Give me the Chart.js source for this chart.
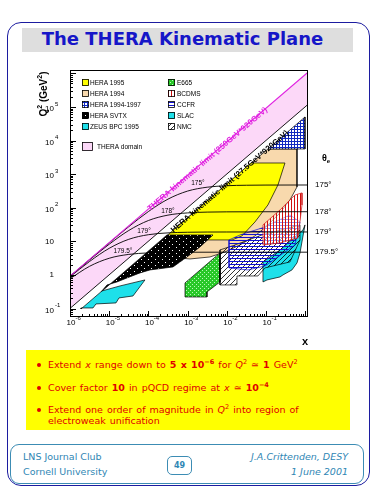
<!DOCTYPE html>
<html><head><meta charset="utf-8">
<script src="https://cdn.jsdelivr.net/npm/chart.js@4/dist/chart.umd.min.js"></script>
<style>
html,body{margin:0;padding:0;background:#fff;}
#page{position:relative;width:375px;height:500px;overflow:hidden;font-family:"DejaVu Sans",sans-serif;}
.frame{position:absolute;left:7px;top:22px;width:363px;height:464px;border:1.5px solid #1c1ca0;border-radius:14px;box-sizing:border-box;}
.titlebar{position:absolute;left:22px;top:28px;width:331px;height:24px;background:#dedede;}
.title{position:absolute;left:22px;top:28px;width:321px;height:24px;line-height:24px;text-align:center;color:#1616c8;font:bold 18px "DejaVu Sans";white-space:nowrap;}
.box{position:absolute;left:26px;top:350px;width:324px;height:80px;background:#ffff00;}
.bl{position:absolute;left:48px;font:9.5px "DejaVu Sans";line-height:12px;color:#e00000;white-space:nowrap;word-spacing:1px;}
.bl b{font-weight:bold;}
.bl sup{font-size:6.5px;line-height:0;vertical-align:4px;}
.dot{position:absolute;left:-11px;top:4px;width:4px;height:4px;border-radius:50%;background:#e00000;}
.footer{position:absolute;left:10px;top:444px;width:354px;height:40px;border:1px solid #3c8cb4;border-radius:9px;box-sizing:border-box;}
.ft{position:absolute;font:9.5px "DejaVu Sans";color:#2f86b4;white-space:nowrap;line-height:12px;}
.pg{position:absolute;left:167px;top:456px;width:25px;height:19px;border:1px solid #3c8cb4;border-radius:5px;box-sizing:border-box;font:bold 8px "DejaVu Sans";color:#2f86b4;text-align:center;line-height:17px;}
canvas{position:absolute;left:0;top:0;}
</style></head>
<body>
<div id="page">
<div class="frame"></div>
<div class="titlebar"></div>
<div class="title">The THERA Kinematic Plane</div>
<div class="box"></div>
<div class="bl" style="top:359px"><span class="dot"></span>Extend <i>x</i> range down to <b>5 x 10<sup>−6</sup></b> for <i>Q</i><sup>2</sup> ≃ <b>1</b> GeV<sup>2</sup></div>
<div class="bl" style="top:382px"><span class="dot"></span>Cover factor <b>10</b> in pQCD regime at <i>x</i> ≃ <b>10<sup>−4</sup></b></div>
<div class="bl" style="top:404px"><span class="dot"></span>Extend one order of magnitude in <i>Q</i><sup>2</sup> into region of</div>
<div class="bl" style="top:415px">electroweak unification</div>
<div class="footer"></div>
<div class="ft" style="left:23px;top:451px">LNS Journal Club</div>
<div class="ft" style="left:23px;top:466px">Cornell University</div>
<div class="pg">49</div>
<div class="ft" style="right:27px;top:451px;font-style:italic">J.A.Crittenden, DESY</div>
<div class="ft" style="right:27px;top:466px;font-style:italic">1 June 2001</div>
<canvas id="c" width="375" height="500" style="width:375px;height:500px"></canvas>
</div>
<script>
// ---------- data (x, Q^2 in GeV^2) ----------
const xMin = 1e-6, xMax = 1.18;
const yMin = 0.056, yMax = 1.26e6;

const xTickValues = [1e-6, 1e-5, 1e-4, 1e-3, 1e-2, 1e-1];
const xTickExps   = ['-6', '-5', '-4', '-3', '-2', '-1'];
const yTickValues = [0.1, 1, 10, 100, 1e3, 1e4, 1e5];
const yTickBases  = ['10', '1', '10', '10', '10', '10', '10'];
const yTickExps   = ['-1', '', '', '2', '3', '4', '5'];

const theraLimit = [[1e-6, 0.92], [1.18, 1.086e6]];
const heraLimit  = [[1e-6, 0.101], [1.18, 1.19e5]];
const theraDomain = [[1e-6, 0.92], [1.18, 1.086e6], [1.18, 1.19e5], [1e-6, 0.101]];

const hera1994 = [[0.112,5620],[0.618,5620],[0.618,416],[0.409,171],[0.228,70.0],[0.106,28.7],[0.0524,14.5],[0.0217,7.81],[0.0090,4.84],[0.00372,3.43],[0.00115,2.99],[5.69e-4,3.21],[5.69e-4,28.7],[0.112,5620]];
const hera1995 = [[0.0414,2150],[0.305,2150],[0.202,477],[0.112,121],[0.0524,37.8],[0.0244,14.5],[0.0136,11.0],[2.22e-4,11.0],[0.0414,2150]];
const hera9497 = [[0.988,5.04e4],[0.988,5620],[0.112,5620],[0.988,5.04e4]];
const heraSvtx = [[6.18e-6,0.312],[2.98e-4,15.5],[4.44e-3,15.5],[2.07e-3,6.81],[9.66e-4,3.43],[4.24e-4,1.73],[1.10e-4,1.41],[6.11e-5,1.15],[2.84e-5,0.814],[1.58e-5,0.619],[8.79e-6,0.504],[6.18e-6,0.312]];
const zeusBpc = [[1.91e-6,0.0973],[6.55e-6,0.334],[1.89e-5,0.471],[8.18e-5,0.710],[4.05e-5,0.237],[1.78e-5,0.207],[1.49e-5,0.147],[4.60e-6,0.137],[3.86e-6,0.104],[1.91e-6,0.104],[1.91e-6,0.0973]];
const e665 = [[8.59e-4,0.221],[8.59e-4,0.578],[6.71e-3,4.52],[6.71e-3,0.619],[3.12e-3,0.312],[3.12e-3,0.221],[8.59e-4,0.221]];
const slac = [[0.0838,0.619],[0.0838,2.44],[0.228,5.55],[0.879,21.8],[0.988,30.8],[0.737,4.52],[0.618,2.28],[0.460,1.41],[0.271,1.0],[0.228,0.872],[0.106,0.710],[0.0838,0.619]];
const nmc = [[0.00671,5.55],[0.00671,0.504],[0.0182,0.504],[0.0182,0.933],[0.0625,0.933],[0.0942,1.62],[0.409,2.44],[0.737,11.0],[0.737,30.8],[0.0791,15.5],[0.0162,7.81],[0.00671,5.55]];
const ccfr = [[0.0114,11.0],[0.0114,1.62],[0.0347,1.41],[0.0942,1.85],[0.549,7.81],[0.737,37.8],[0.409,61.1],[0.0791,25.0],[0.0217,15.5],[0.0114,11.0]];
const bcdms = [[0.0838,7.81],[0.0838,30.8],[0.228,86.0],[0.549,240],[0.828,276],[0.828,121],[0.655,12.6],[0.228,8.96],[0.0838,7.81]];

const theta175  = [[1e-6,0.918],[3.16e-6,2.89],[1e-5,9.03],[3.16e-5,27.4],[1e-4,77.1],[3.16e-4,180.6],[1e-3,313.7],[3.16e-3,409],[1e-2,452.6],[3.16e-2,468],[1e-1,473.5],[1.18,476]];
const theta178  = [[1e-6,0.909],[3.16e-6,2.80],[1e-5,8.21],[3.16e-5,21.06],[1e-4,41.67],[3.16e-4,60.4],[1e-3,70.3],[3.16e-3,74.2],[1e-2,75.5],[1e-1,76.1],[1.18,76.2]];
const theta179  = [[1e-6,0.878],[3.16e-6,2.52],[1e-5,6.20],[3.16e-5,11.51],[1e-4,15.78],[3.16e-4,17.87],[1e-3,18.65],[3.16e-3,18.92],[1e-2,19.0],[1.18,19.04]];
const theta1795 = [[1e-6,0.771],[3.16e-6,1.81],[1e-5,3.14],[3.16e-5,4.09],[1e-4,4.53],[3.16e-4,4.68],[1e-3,4.74],[1e-2,4.76],[1.18,4.76]];

const thetaNames   = ['175°', '178°', '179°', '179.5°'];
const thetaPlateau = [476, 76.2, 19.04, 4.76];
const thetaLabelAt = [[1.84e-3, 547], [3.16e-4, 80.3], [7.73e-5, 20.4], [2.25e-5, 5.18]];
const thetaHeaderQ2 = 3000;

const legendCol1 = ['HERA 1995', 'HERA 1994', 'HERA 1994-1997', 'HERA SVTX', 'ZEUS BPC 1995'];
const legendCol2 = ['E665', 'BCDMS', 'CCFR', 'SLAC', 'NMC'];
const domainLabel = 'THERA domain';
const theraLabel = 'THERA kinematic limit (250GeV*920GeV)';
const heraLabel  = 'HERA kinematic limit (27.5GeV*920GeV)';
const theraLabelX = 1.0e-4;
const heraLabelX  = 3.0e-4;

// ---------- patterns ----------
function pat(w, h, fn) {
  const c = document.createElement('canvas'); c.width = w; c.height = h;
  const g = c.getContext('2d'); fn(g);
  return document.getElementById('c').getContext('2d').createPattern(c, 'repeat');
}
const pBlue = pat(3, 3, g => { g.fillStyle = '#1028c0'; g.fillRect(0,0,3,3); g.fillStyle = '#fff'; g.fillRect(1,1,2,2); });
const pBlack = pat(7, 6, g => { g.fillStyle = '#000'; g.fillRect(0,0,7,6); g.fillStyle = '#fff'; g.fillRect(1,1,1,1); g.fillRect(4,4,1,1); });
const pGreen = pat(4, 4, g => { g.fillStyle = '#28c828'; g.fillRect(0,0,4,4); g.fillStyle = '#b8f8b8'; g.fillRect(0,0,1,1); g.fillRect(2,2,1,1); });
const pRed = pat(3, 3, g => { g.fillStyle = 'rgba(255,255,255,0.55)'; g.fillRect(0,0,3,3); g.fillStyle = '#d01010'; g.fillRect(0,0,1,3); });
const pCcfr = pat(3, 3, g => { g.fillStyle = '#1010d0'; g.fillRect(0,0,3,1); });
const pNmc = pat(5, 5, g => { g.strokeStyle = '#000'; g.lineWidth = 0.8; g.beginPath(); g.moveTo(0,5); g.lineTo(5,0); g.stroke(); });

const styles = {
  'HERA 1995': {fill: '#ffff00', border: '#000'},
  'HERA 1994': {fill: '#f8d9ad', border: '#000'},
  'HERA 1994-1997': {fill: pBlue, border: '#000'},
  'HERA SVTX': {fill: pBlack, border: '#000'},
  'ZEUS BPC 1995': {fill: '#1ee0ea', border: '#000'},
  'E665': {fill: pGreen, border: '#000'},
  'BCDMS': {fill: pRed, border: '#d01010'},
  'CCFR': {fill: pCcfr, border: '#1010d0'},
  'SLAC': {fill: '#1ee0ea', border: '#000'},
  'NMC': {fill: pNmc, border: '#000'},
  'THERA domain': {fill: '#fcd8f8', border: '#000'}
};

const pts = a => a.map(p => ({x: p[0], y: p[1]}));
function region(name, arr) {
  const s = styles[name];
  return {label: name, data: pts(arr), showLine: true, pointRadius: 0, borderWidth: 0.7,
    borderColor: s.border, backgroundColor: s.fill, fill: 'shape', tension: 0};
}
function curve(name, arr, color, w, smooth) {
  return {label: name, data: pts(arr), showLine: true, pointRadius: 0, borderWidth: w,
    borderColor: color, backgroundColor: 'transparent', fill: false,
    cubicInterpolationMode: smooth ? 'monotone' : 'default', tension: 0};
}

// bottom -> top
const layers = [
  {label: 'THERA domain', data: pts(theraDomain), showLine: true, pointRadius: 0, borderWidth: 0,
    borderColor: 'transparent', backgroundColor: '#fcd8f8', fill: 'shape'},
  region('HERA 1994', hera1994),
  region('HERA 1995', hera1995),
  region('HERA 1994-1997', hera9497),
  region('HERA SVTX', heraSvtx),
  region('ZEUS BPC 1995', zeusBpc),
  region('E665', e665),
  region('SLAC', slac),
  region('NMC', nmc),
  region('CCFR', ccfr),
  region('BCDMS', bcdms),
  curve('175', theta175, '#000', 0.9, true),
  curve('178', theta178, '#000', 0.9, true),
  curve('179', theta179, '#000', 0.9, true),
  curve('179.5', theta1795, '#000', 0.9, true),
  curve('HERA limit', heraLimit, '#000', 0.9, false),
  curve('THERA limit', theraLimit, '#e020e0', 1.1, false)
];
layers.forEach((d, i) => { d.order = layers.length - i; });

// ---------- decorations plugin ----------
const SANS = '"Liberation Sans", Arial, sans-serif';
function rich(ctx, parts, x, y, align) {
  let w = 0;
  parts.forEach(p => { ctx.font = p.f; p.w = ctx.measureText(p.t).width; w += p.w; });
  let cx = align === 'center' ? x - w / 2 : (align === 'right' ? x - w : x);
  ctx.textAlign = 'left';
  parts.forEach(p => { ctx.font = p.f; ctx.fillText(p.t, cx, y + (p.dy || 0)); cx += p.w; });
  return w;
}
function lineLabel(ctx, xs, ys, line, x0, text, color, offset) {
  const x1 = xs.getPixelForValue(line[0][0]), y1 = ys.getPixelForValue(line[0][1]);
  const x2 = xs.getPixelForValue(line[1][0]), y2 = ys.getPixelForValue(line[1][1]);
  const ang = Math.atan2(y2 - y1, x2 - x1);
  const px = xs.getPixelForValue(x0);
  const py = y1 + (y2 - y1) * (px - x1) / (x2 - x1);
  ctx.save(); ctx.translate(px, py); ctx.rotate(ang);
  ctx.fillStyle = color; ctx.font = 'bold 8px ' + SANS; ctx.textAlign = 'left'; ctx.textBaseline = 'alphabetic';
  ctx.fillText(text, 0, offset); ctx.restore();
}

const deco = {
  id: 'deco',
  afterDatasetsDraw(chart) {
    const ctx = chart.ctx, a = chart.chartArea, xs = chart.scales.x, ys = chart.scales.y;
    ctx.save();
    // line labels
    lineLabel(ctx, xs, ys, theraLimit, theraLabelX, theraLabel, '#e020e0', 3);
    lineLabel(ctx, xs, ys, heraLimit, heraLabelX, heraLabel, '#000', 10);
    // frame
    ctx.strokeStyle = '#000'; ctx.lineWidth = 1;
    ctx.strokeRect(a.left + 0.5, a.top + 0.5, a.right - a.left - 1, a.bottom - a.top - 1);
    // ticks
    ctx.beginPath();
    for (let e = -6; e <= 0; e++) for (let k = 1; k <= 9; k++) {
      const v = k * Math.pow(10, e); if (v < xMin || v > xMax) continue;
      const px = Math.round(xs.getPixelForValue(v)) + 0.5, L = k === 1 ? 6 : 3;
      ctx.moveTo(px, a.bottom); ctx.lineTo(px, a.bottom - L);
    }
    for (let e = -2; e <= 6; e++) for (let k = 1; k <= 9; k++) {
      const v = k * Math.pow(10, e); if (v < yMin || v > yMax) continue;
      const py = Math.round(ys.getPixelForValue(v)) + 0.5, L = k === 1 ? 6 : 3;
      ctx.moveTo(a.left, py); ctx.lineTo(a.left + L, py);
    }
    ctx.stroke();
    // tick labels
    ctx.fillStyle = '#000'; ctx.textBaseline = 'middle';
    xTickValues.forEach((v, i) => {
      const px = xs.getPixelForValue(v);
      ctx.font = '8px ' + SANS; const wb = ctx.measureText('10').width;
      rich(ctx, [{t: '10', f: '8px ' + SANS}, {t: xTickExps[i], f: '6px ' + SANS, dy: -5}], px + 1 - wb / 2, a.bottom + 6, 'left');
    });
    yTickValues.forEach((v, i) => {
      const py = ys.getPixelForValue(v);
      const hasExp = yTickExps[i] !== '';
      ctx.font = '8px ' + SANS; ctx.textAlign = 'right';
      ctx.fillText(yTickBases[i], a.left - 16, py + (hasExp ? 2 : 0));
      if (hasExp) { ctx.font = '6px ' + SANS; ctx.textAlign = 'left'; ctx.fillText(yTickExps[i], a.left - 15, py - 3); }
    });
    // axis titles
    ctx.save(); ctx.translate(a.left - 26, 94); ctx.rotate(-Math.PI / 2);
    rich(ctx, [{t: 'Q', f: 'bold 10px ' + SANS}, {t: '2', f: 'bold 7px ' + SANS, dy: -4}, {t: ' (GeV', f: 'bold 10px ' + SANS}, {t: '2', f: 'bold 7px ' + SANS, dy: -4}, {t: ')', f: 'bold 10px ' + SANS}], 0, 0, 'center');
    ctx.restore();
    ctx.font = 'bold 11px ' + SANS; ctx.textAlign = 'center';
    ctx.fillText('x', a.right - 3, a.bottom + 25);
    // theta labels
    ctx.font = '6.5px ' + SANS;
    thetaLabelAt.forEach((p, i) => { ctx.textAlign = 'center'; ctx.fillText(thetaNames[i], xs.getPixelForValue(p[0]), ys.getPixelForValue(p[1])); });
    ctx.font = '8px ' + SANS; ctx.textAlign = 'left';
    thetaPlateau.forEach((q, i) => ctx.fillText(thetaNames[i], a.right + 7, ys.getPixelForValue(q)));
    rich(ctx, [{t: 'θ', f: 'bold 9px ' + SANS}, {t: 'e', f: 'bold 6px ' + SANS, dy: 3}], a.right + 14, ys.getPixelForValue(thetaHeaderQ2), 'left');
    // legend
    ctx.textBaseline = 'middle';
    const drawItem = (name, bx, by, bw, bh, tx) => {
      const s = styles[name];
      ctx.fillStyle = '#fff'; ctx.fillRect(bx, by, bw, bh);
      ctx.fillStyle = s.fill; ctx.fillRect(bx, by, bw, bh);
      ctx.strokeStyle = '#000'; ctx.lineWidth = 0.8; ctx.strokeRect(bx + 0.5, by + 0.5, bw - 1, bh - 1);
      ctx.fillStyle = '#000'; ctx.font = '6.5px ' + SANS; ctx.textAlign = 'left';
      ctx.fillText(name, tx, by + bh / 2 + 0.5);
    };
    legendCol1.forEach((n, i) => drawItem(n, a.left + 12, a.top + 9 + 11 * i, 7, 7, a.left + 20));
    legendCol2.forEach((n, i) => drawItem(n, a.left + 98, a.top + 9 + 11 * i, 7, 7, a.left + 107));
    drawItem(domainLabel, a.left + 12, a.top + 72, 11, 9, a.left + 27);
    ctx.restore();
  }
};

new Chart(document.getElementById('c'), {
  type: 'scatter',
  data: {datasets: layers},
  options: {
    responsive: false, animation: false, devicePixelRatio: 1,
    layout: {padding: {left: 70, right: 67, top: 70, bottom: 183}},
    plugins: {legend: {display: false}, tooltip: {enabled: false}},
    scales: {
      x: {type: 'logarithmic', min: xMin, max: xMax, bounds: 'data', display: false},
      y: {type: 'logarithmic', min: yMin, max: yMax, bounds: 'data', display: false}
    }
  },
  plugins: [deco]
});
</script>
</body></html>
